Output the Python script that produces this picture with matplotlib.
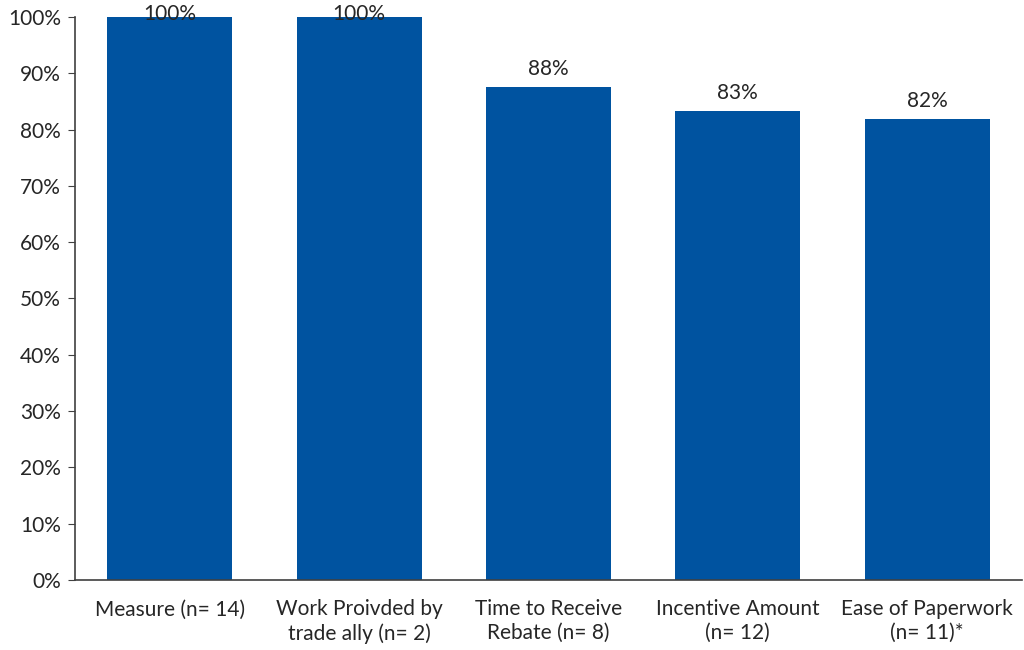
import matplotlib.pyplot as plt

categories = ['Measure (n= 14)', 'Work Proivded by\ntrade ally (n= 2)', 'Time to Receive\nRebate (n= 8)',
              'Incentive Amount\n(n= 12)', 'Ease of Paperwork\n(n= 11)*']
values = [100, 100, 87.5, 83.3, 81.8]
yticks = [0, 10, 20, 30, 40, 50, 60, 70, 80, 90, 100]

plt.rcParams['font.family'] = ['Lato', 'DejaVu Sans']

fig = plt.figure(figsize=(10.24, 6.5), dpi=100)
ax = fig.add_axes([0.0732, 0.1077, 0.9248, 0.8663])

x = range(len(categories))
ax.bar(x, values, width=0.66, color='#0053A0', zorder=2)
# value labels sit just above each bar; the full bars get theirs pulled down to stay on the canvas
for i, v in zip(x, values):
    ax.text(i, min(v + 2.2, 99.5), f'{v:.0f}%', ha='center', va='baseline',
            fontsize=15, color='#262626', zorder=3)

ax.set_xlim(-0.5, len(categories) - 0.5)
ax.set_ylim(0, 100)
ax.set_yticks(yticks)
ax.set_yticklabels([f'{t}%' for t in yticks], fontsize=15, color='#262626')
ax.set_xticks(list(x))
ax.set_xticklabels(categories, fontsize=15, color='#262626', linespacing=1.22)
ax.tick_params(axis='x', length=0, pad=14)
ax.tick_params(axis='y', length=5, color='#404040', pad=5)

for side in ['top', 'right']:
    ax.spines[side].set_visible(False)
ax.spines['left'].set_color('#404040')
ax.spines['bottom'].set_color('#404040')
ax.spines['left'].set_linewidth(1.2)
ax.spines['bottom'].set_linewidth(1.2)

fig.savefig('out.png', dpi=100)
